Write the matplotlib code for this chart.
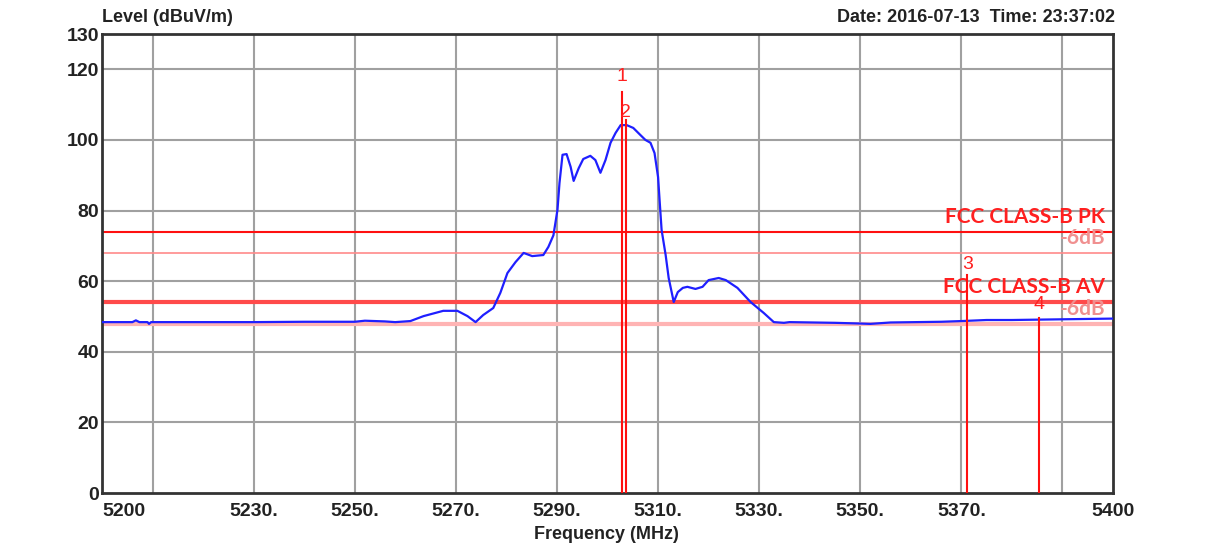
import matplotlib
matplotlib.use("Agg")
import matplotlib.pyplot as plt

# trace (MHz, dBuV/m)
freq = [5200, 5206.0, 5206.7, 5207.4, 5209.0, 5209.3, 5209.7, 5220, 5230, 5240, 5250, 5252,
        5256, 5258, 5261, 5263.6, 5267.5, 5270.3, 5272.3, 5273.9, 5275.4, 5277.4,
        5278.8, 5280.2, 5281.8, 5283.4, 5285.1, 5287.3, 5288.3, 5289.3, 5290.1,
        5290.5, 5291.1, 5291.9, 5292.7, 5293.3, 5294.3, 5295.2, 5296.6, 5297.6,
        5298.6, 5299.6, 5300.6, 5301.6, 5302.6, 5303.8, 5305.1, 5306.5, 5307.5,
        5308.5, 5309.3, 5310.0, 5310.3, 5310.7, 5311.5, 5312.1, 5313.1, 5313.9,
        5314.9, 5315.8, 5317.4, 5318.8, 5320.0, 5322.0, 5323.4, 5325.7, 5328.3,
        5330.9, 5332.9, 5334.9, 5336, 5345, 5350, 5352, 5356, 5366, 5370, 5375,
        5380, 5385, 5390, 5400]
level = [48.4, 48.4, 48.9, 48.4, 48.4, 47.9, 48.4, 48.4, 48.4, 48.5, 48.5, 48.8,
         48.6, 48.4, 48.7, 50.1, 51.6, 51.6, 50.1, 48.4, 50.4, 52.4,
         56.7, 62.3, 65.4, 68.0, 67.1, 67.4, 69.7, 73.0, 80.2,
         87.8, 95.8, 96.0, 92.4, 88.4, 92.0, 94.6, 95.5, 94.3,
         90.7, 94.3, 99.2, 102.0, 104.2, 104.2, 103.4, 101.4, 100.0,
         99.2, 96.3, 89.5, 83.0, 74.5, 67.4, 60.9, 54.1, 56.9,
         58.1, 58.4, 57.8, 58.4, 60.3, 60.9, 60.3, 58.1, 54.1,
         51.0, 48.4, 48.2, 48.4, 48.2, 48.0, 47.9, 48.3, 48.5, 48.7, 49.0,
         49.0, 49.1, 49.2, 49.4]

# limit lines
limit_names = ["FCC CLASS-B PK", "-6dB", "FCC CLASS-B AV", "-6dB"]
limit_levels = [74, 68, 54, 48]
limit_colors = ["#ff1010", "#ff8a8a", "#ff4a4a", "#ffb4b4"]
limit_widths = [1.5, 1.2, 3.0, 3.0]
label_colors = ["#ff2020", "#f09090", "#ff2020", "#f09090"]

# markers
marker_ids = ["1", "2", "3", "4"]
marker_freq = [5302.8, 5303.6, 5371.2, 5385.3]
marker_top = [113.6, 105.7, 61.8, 49.6]
marker_text_y = [118.0, 107.8, 64.6, 53.3]

xtick_vals = [5200, 5230, 5250, 5270, 5290, 5310, 5330, 5350, 5370, 5400]
xtick_labels = ["5200", "5230.", "5250.", "5270.", "5290.", "5310.", "5330.", "5350.", "5370.", "5400"]
ytick_vals = [0, 20, 40, 60, 80, 100, 120, 130]

fig = plt.figure(figsize=(12.16, 5.56), dpi=100)
ax = fig.add_axes([0.0839, 0.1133, 0.8314, 0.8255])

# grid
for g in range(5210, 5400, 20):
    ax.axvline(g, color="#a0a0a0", lw=1.5, zorder=1)
for g in [20, 40, 60, 80, 100, 120]:
    ax.axhline(g, color="#a0a0a0", lw=1.5, zorder=1)

for lv, c, w in zip(limit_levels, limit_colors, limit_widths):
    ax.axhline(lv, color=c, lw=w, zorder=2)
for name, lv, c in zip(limit_names, limit_levels, label_colors):
    ax.text(5398.5, lv + 1.4, name, color=c, fontsize=15, fontweight="bold",
            family="Lato", ha="right", va="bottom", zorder=4)

ax.plot(freq, level, color="#1f1fff", lw=1.6, zorder=3)

for mid, f, top, ty in zip(marker_ids, marker_freq, marker_top, marker_text_y):
    ax.plot([f, f], [0, top], color="#ff1010", lw=1.5, zorder=4)
    ax.text(f, ty, mid, color="#ff2020", fontsize=14, family="Liberation Sans",
            ha="center", va="center", zorder=5)

ax.set_xlim(5200, 5400)
ax.set_ylim(0, 130)
ax.set_xticks(xtick_vals)
ax.set_xticklabels(xtick_labels)
ax.set_yticks(ytick_vals)
ax.tick_params(length=0, labelsize=14, colors="#222222")
ax.tick_params(axis="x", pad=7)
ax.tick_params(axis="y", pad=2)
for lab in ax.get_xticklabels() + ax.get_yticklabels():
    lab.set_fontweight("bold")
    lab.set_family("Liberation Sans")
ax.get_xticklabels()[0].set_horizontalalignment("left")
for sp in ax.spines.values():
    sp.set_color("#333333")
    sp.set_linewidth(2)

fig.text(0.0839, 0.968, "Level (dBuV/m)", fontsize=13, fontweight="bold",
         family="Liberation Sans", color="#222222", ha="left", va="center")
fig.text(0.917, 0.968, "Date: 2016-07-13  Time: 23:37:02", fontsize=13, fontweight="bold",
         family="Liberation Sans", color="#222222", ha="right", va="center")
fig.text(0.499, 0.038, "Frequency (MHz)", fontsize=13, fontweight="bold",
         family="Liberation Sans", color="#222222", ha="center", va="center")

fig.savefig("out.png", dpi=100, facecolor="white")
